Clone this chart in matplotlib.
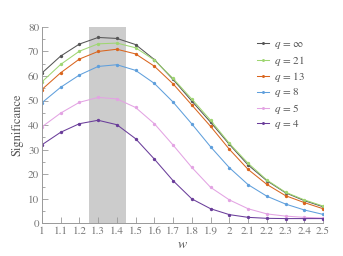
import matplotlib
matplotlib.use("Agg")
import matplotlib.pyplot as plt
import numpy as np

plt.rcParams['font.family'] = ['STIXGeneral', 'DejaVu Serif']
plt.rcParams['mathtext.fontset'] = 'stix'

# data
w = [1.0, 1.1, 1.2, 1.3, 1.4, 1.5, 1.6, 1.7, 1.8, 1.9, 2.0, 2.1, 2.2, 2.3, 2.4, 2.5]
q_inf = [61.2, 68.1, 73.0, 75.7, 75.3, 72.8, 66.7, 58.6, 49.8, 41.2, 32.2, 23.8, 17.4, 12.5, 9.3, 6.8]
q_21 = [57.6, 64.7, 70.1, 73.1, 73.4, 71.5, 66.5, 59.0, 50.6, 42.0, 32.6, 24.5, 17.7, 12.7, 9.6, 7.1]
q_13 = [54.5, 61.3, 66.9, 70.0, 70.9, 69.0, 64.0, 56.8, 48.2, 39.5, 30.2, 22.0, 15.9, 11.3, 8.5, 6.0]
q_8 = [49.1, 55.4, 60.4, 63.9, 64.6, 62.3, 57.0, 49.4, 40.5, 31.2, 22.7, 15.8, 11.1, 7.9, 5.5, 3.7]
q_5 = [39.3, 44.9, 49.3, 51.3, 50.7, 47.2, 40.6, 31.9, 22.8, 14.7, 9.6, 6.0, 3.9, 3.0, 2.5, 2.2]
q_4 = [32.0, 37.1, 40.6, 42.0, 40.2, 34.5, 26.2, 17.4, 10.0, 6.0, 3.6, 2.5, 2.1, 2.0, 2.0, 2.0]

series = [q_inf, q_21, q_13, q_8, q_5, q_4]
labels = [r'$q$ = $\infty$', r'$q$ = 21', r'$q$ = 13', r'$q$ = 8', r'$q$ = 5', r'$q$ = 4']
colors = ['#555555', '#9fd672', '#d9651e', '#5f9fdc', '#e3a3e3', '#6a3d9a']

band = (1.25, 1.45)

fig = plt.figure(figsize=(3.43, 2.56), dpi=100)
ax = fig.add_axes([0.122, 0.127, 0.82, 0.768])

ax.axvspan(band[0], band[1], ymin=0, ymax=1, color='#cccccc', lw=0, zorder=0)

for y, lab, c in zip(series, labels, colors):
    ax.plot(w, y, '-', marker='o', ms=1.4, lw=0.75, color=c, label=lab)

ax.set_xlim(1, 2.5)
ax.set_ylim(0, 80)
ax.set_xticks(np.arange(1, 2.51, 0.1))
ax.set_xticklabels(['1', '1.1', '1.2', '1.3', '1.4', '1.5', '1.6', '1.7', '1.8', '1.9',
                    '2', '2.1', '2.2', '2.3', '2.4', '2.5'])
ax.set_yticks(np.arange(0, 81, 10))
ax.set_yticks(np.arange(5, 80, 10), minor=True)

for s in ['top', 'right']:
    ax.spines[s].set_visible(False)
for s in ['left', 'bottom']:
    ax.spines[s].set_color('#999999')
    ax.spines[s].set_linewidth(0.7)

ax.tick_params(which='both', direction='in', colors='#999999', labelcolor='#777777',
               labelsize=8, width=0.6, pad=2)
ax.tick_params(which='major', length=4)
ax.tick_params(which='minor', length=2)

ax.set_xlabel(r'$w$', fontsize=10, color='#555555', labelpad=1)
ax.set_ylabel('Significance', fontsize=9, color='#555555', labelpad=3)

leg = ax.legend(loc='upper right', bbox_to_anchor=(0.955, 0.965), frameon=False,
                fontsize=8, handlelength=1.1, handletextpad=0.4, labelspacing=0.22,
                borderaxespad=0.1, markerscale=0.8)
for t in leg.get_texts():
    t.set_color('#555555')

fig.savefig('out.png', dpi=100)
